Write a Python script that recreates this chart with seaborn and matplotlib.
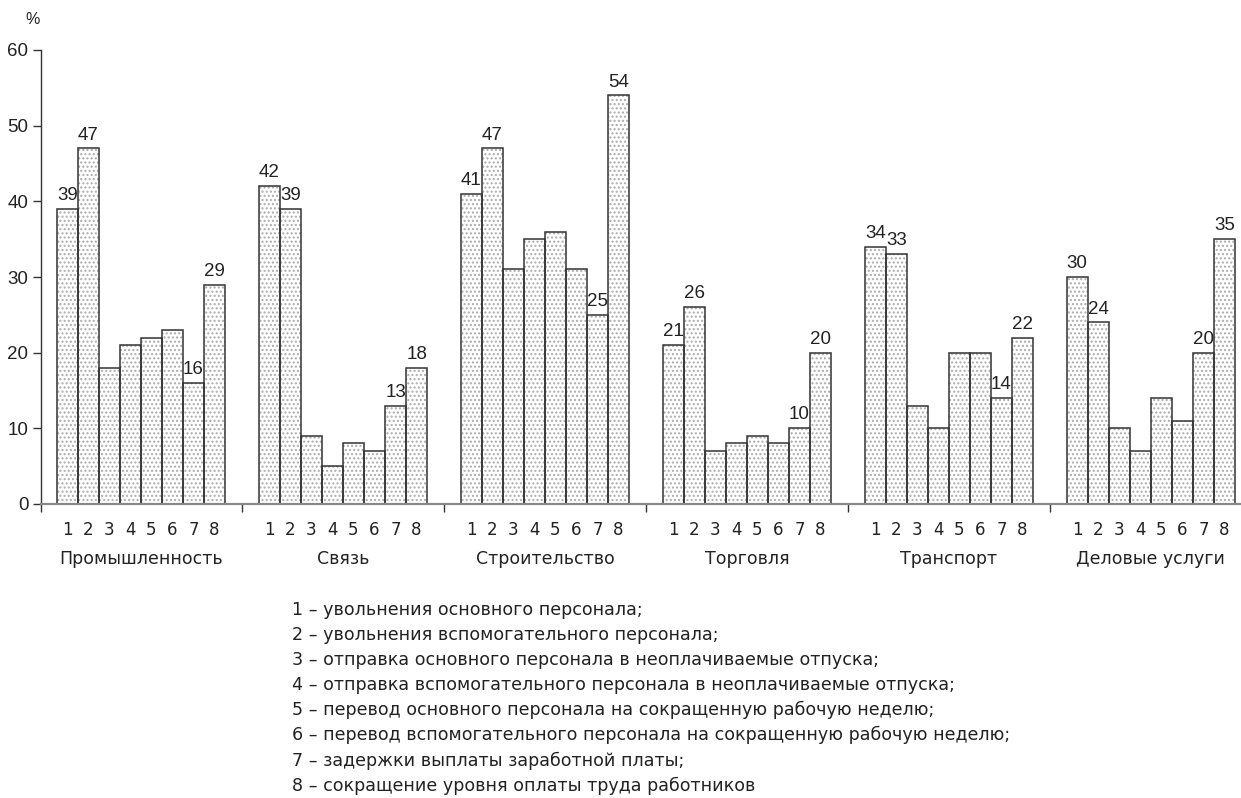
import matplotlib
matplotlib.use('Agg')
import pandas as pd
import matplotlib.pyplot as plt
import seaborn as sns

# Data
sectors = ['Промышленность', 'Связь', 'Строительство', 'Торговля', 'Транспорт', 'Деловые услуги']
measures = [1, 2, 3, 4, 5, 6, 7, 8]
prom = [39, 47, 18, 21, 22, 23, 16, 29]
svyaz = [42, 39, 9, 5, 8, 7, 13, 18]
stroit = [41, 47, 31, 35, 36, 31, 25, 54]
torg = [21, 26, 7, 8, 9, 8, 10, 20]
transp = [34, 33, 13, 10, 20, 20, 14, 22]
delov = [30, 24, 10, 7, 14, 11, 20, 35]
labelled = [1, 2, 7, 8]  # measures that get a value label
y_ticks = [0, 10, 20, 30, 40, 50, 60]
legend_lines = [
    '1 – увольнения основного персонала;',
    '2 – увольнения вспомогательного персонала;',
    '3 – отправка основного персонала в неоплачиваемые отпуска;',
    '4 – отправка вспомогательного персонала в неоплачиваемые отпуска;',
    '5 – перевод основного персонала на сокращенную рабочую неделю;',
    '6 – перевод вспомогательного персонала на сокращенную рабочую неделю;',
    '7 – задержки выплаты заработной платы;',
    '8 – сокращение уровня оплаты труда работников',
]

# layout: each bar one unit wide, groups separated by a gap
step = 9.6
rows = []
for gi, (name, vals) in enumerate(zip(sectors, [prom, svyaz, stroit, torg, transp, delov])):
    for m, v in zip(measures, vals):
        rows.append({'sector': name, 'measure': m, 'value': v, 'pos': gi * step + (m - 1)})
df = pd.DataFrame(rows)

sns.set_theme(style='white')
plt.rcParams['font.family'] = ['DejaVu Sans']
num_font = ['Liberation Sans', 'DejaVu Sans']

fig = plt.figure(figsize=(12.41, 7.98), dpi=100)
ax = fig.add_axes([41 / 1241, 1 - 504 / 798, 1200 / 1241, 454 / 798])

# dotted fill
sns.barplot(data=df, x='pos', y='value', native_scale=True, width=1, color='white',
            saturation=1, errorbar=None, edgecolor='#ababab', linewidth=0, hatch='....', ax=ax)
# bar outlines
sns.barplot(data=df, x='pos', y='value', native_scale=True, width=1, color='#333333',
            fill=False, errorbar=None, linewidth=1.1, ax=ax)

# value labels
for _, r in df[df['measure'].isin(labelled)].iterrows():
    ax.annotate(str(r['value']), (r['pos'], r['value']), xytext=(0, 3.5), textcoords='offset points',
                ha='center', va='bottom', fontsize=13.5, family=num_font, color='#222222')

xmin = -1.25
ax.set_xlim(xmin, xmin + 1200 / 21.04)
ax.set_ylim(0, 60)

# group separators as major ticks, measure numbers as minor ticks
seps = [xmin] + [g * step + 8.3 for g in range(len(sectors) - 1)]
ax.set_xticks(seps)
ax.set_xticklabels([''] * len(seps))
ax.set_xticks(df['pos'], minor=True)
ax.set_xticklabels([str(m) for m in df['measure']], minor=True, fontsize=12, color='#222222')
ax.tick_params(axis='x', which='major', direction='out', length=6, width=1, color='#333333', bottom=True)
ax.tick_params(axis='x', which='minor', length=0, pad=12, bottom=True)

ax.set_yticks(y_ticks)
ax.set_yticklabels([str(t) for t in y_ticks], family=num_font, fontsize=13.5, color='#222222')
ax.tick_params(axis='y', direction='out', length=6, width=1, color='#333333', pad=3, left=True)

ax.set_xlabel('')
ax.set_ylabel('')
for s in ['top', 'right']:
    ax.spines[s].set_visible(False)
ax.spines['left'].set_color('#333333')
ax.spines['left'].set_linewidth(1)
ax.spines['bottom'].set_color('#888888')
ax.spines['bottom'].set_linewidth(1.6)

# sector names under groups
for gi, name in enumerate(sectors):
    ax.annotate(name, (gi * step + 3.5, 0), xycoords=('data', 'axes fraction'), xytext=(0, -39.5),
                textcoords='offset points', ha='center', va='center', fontsize=12.5, color='#222222')

fig.text(33 / 1241, 1 - 20 / 798, '%', ha='center', va='center', fontsize=11.5, family=num_font, color='#222222')

for i, line in enumerate(legend_lines):
    fig.text(292 / 1241, 1 - (615 + i * 25.1) / 798, line, ha='left', va='baseline',
             fontsize=12.6, color='#222222')

fig.savefig('out.png', dpi=100)
